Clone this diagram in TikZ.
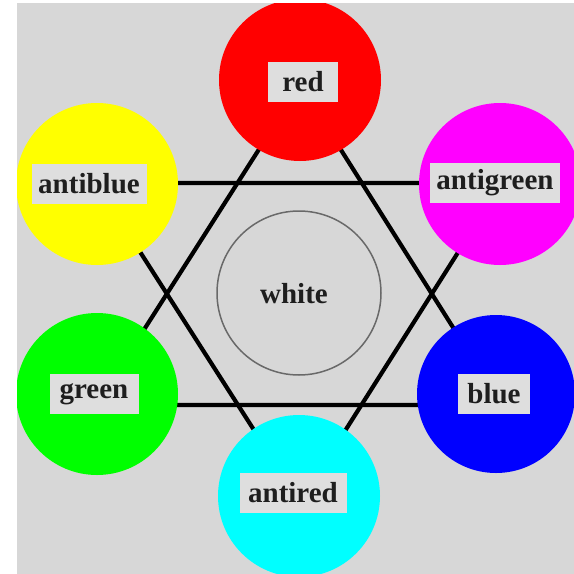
\documentclass[tikz,border=0pt]{standalone}
\usepackage{fontspec}
\setmainfont{Liberation Serif}
\definecolor{bggray}{RGB}{215,215,215}
\definecolor{boxgray}{RGB}{222,222,222}
\definecolor{ringgray}{RGB}{105,105,105}
\definecolor{inkc}{RGB}{30,30,30}
\tikzset{
  colcirc/.style={circle, minimum size=162pt, inner sep=0pt, draw=none},
  labfont/.style={text=inkc, font=\fontsize{29}{29}\selectfont\bfseries},
  lab/.style={labfont, rectangle, fill=boxgray, inner sep=0pt, minimum height=40pt},
  hexline/.style={line width=4.2pt, black},
}
\begin{document}
\begin{tikzpicture}[x=1pt, y=-1pt]
\useasboundingbox (0,0) rectangle (574,574);
\fill[white] (0,0) rectangle (574,574);
\fill[bggray] (17,3) rectangle (574,574);
\begin{scope}
\clip (17,3) rectangle (574,574);
% triangle vertices
\coordinate (ua) at (300,85);
\coordinate (ul) at (96,405);
\coordinate (ur) at (502,405);
\coordinate (dl) at (96,183);
\coordinate (dr) at (502,183);
\coordinate (da) at (300,502);
\draw[hexline] (ua) -- (ul) -- (ur) -- cycle;
\draw[hexline] (dl) -- (dr) -- (da) -- cycle;
% colour circles
\node[colcirc, fill={rgb,255:red,255;green,0;blue,0}] (red) at (300,80) {};
\node[colcirc, fill={rgb,255:red,255;green,255;blue,0}] (antiblue) at (97,184) {};
\node[colcirc, fill={rgb,255:red,255;green,0;blue,255}] (antigreen) at (500,184) {};
\node[colcirc, fill={rgb,255:red,0;green,255;blue,0}] (green) at (97,394) {};
\node[colcirc, fill={rgb,255:red,0;green,0;blue,255}, minimum size=158pt] (blue) at (496,394) {};
\node[colcirc, fill={rgb,255:red,0;green,255;blue,255}] (antired) at (299,496) {};
\node[circle, minimum size=164pt, inner sep=0pt, draw=ringgray, line width=1.5pt] (white) at (299,293) {};
\node[labfont] (whitelab) at (294,294) {white};
% labels
\node[lab, minimum width=70pt] (redlab) at (303,82) {red};
\node[lab, minimum width=115pt] (antibluelab) at (89,184) {antiblue};
\node[lab, minimum width=130pt] (antigreenlab) at (495,183) {antigreen};
\node[lab, minimum width=89pt] (greenlab) at (94,394) {green};
\node[lab, minimum width=72pt] (bluelab) at (494,394) {blue};
\node[lab, minimum width=107pt] (antiredlab) at (293,493) {antired};
\end{scope}
\end{tikzpicture}
\end{document}
